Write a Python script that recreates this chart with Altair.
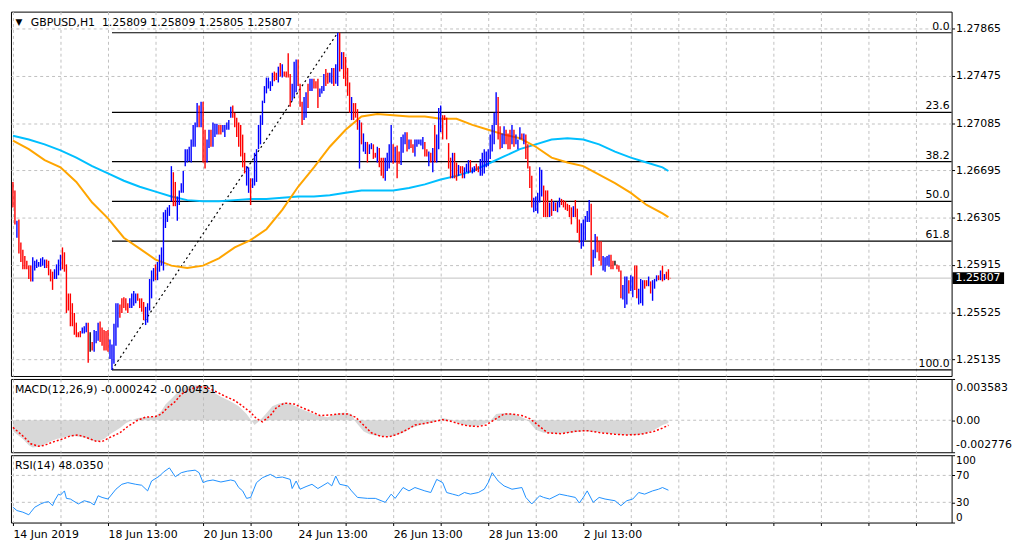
import altair as alt
import pandas as pd

# ---------------- texts ----------------
SYMBOL_TITLE = "GBPUSD,H1\u00a0\u00a01.25809 1.25809 1.25805 1.25807"
MACD_TITLE = "MACD(12,26,9) -0.000242 -0.000431"
RSI_TITLE = "RSI(14) 48.0350"
LAST_PRICE = 1.25807
LAST_PRICE_TXT = "1.25807"

# ---------------- price bars (H1) ----------------
bar_high = [
 1.2660, 1.2653, 1.2628, 1.2629, 1.2610, 1.2604, 1.2599, 1.2595, 1.2591, 1.2591,
 1.2598, 1.2595, 1.2596, 1.2594, 1.2597, 1.2598, 1.2596, 1.2596, 1.2595, 1.2588,
 1.2586, 1.2588, 1.2592, 1.2596, 1.2600, 1.2606, 1.2602, 1.2592, 1.2568, 1.2568,
 1.2560, 1.2552, 1.2544, 1.2536, 1.2537, 1.2540, 1.2541, 1.2544, 1.2544, 1.2536,
 1.2528, 1.2538, 1.2537, 1.2544, 1.2545, 1.2540, 1.2538, 1.2537, 1.2538, 1.2530,
 1.2526, 1.2543, 1.2560, 1.2560, 1.2559, 1.2564, 1.2565, 1.2564, 1.2560, 1.2564,
 1.2568, 1.2570, 1.2568, 1.2568, 1.2564, 1.2564, 1.2561, 1.2557, 1.2560, 1.2580,
 1.2587, 1.2589, 1.2592, 1.2594, 1.2600, 1.2606, 1.2635, 1.2637, 1.2639, 1.2641,
 1.2673, 1.2668, 1.2660, 1.2648, 1.2653, 1.2659, 1.2669, 1.2687, 1.2687, 1.2689,
 1.2695, 1.2707, 1.2709, 1.2725, 1.2723, 1.2726, 1.2726, 1.2703, 1.2695, 1.2703,
 1.2703, 1.2709, 1.2708, 1.2708, 1.2707, 1.2707, 1.2707, 1.2707, 1.2709, 1.2711,
 1.2722, 1.2723, 1.2717, 1.2713, 1.2709, 1.2707, 1.2699, 1.2684, 1.2673, 1.2672,
 1.2663, 1.2663, 1.2684, 1.2687, 1.2707, 1.2715, 1.2727, 1.2739, 1.2746, 1.2746,
 1.2743, 1.2750, 1.2751, 1.2750, 1.2755, 1.2758, 1.2757, 1.2751, 1.2751, 1.2766,
 1.2749, 1.2741, 1.2759, 1.2761, 1.2761, 1.2741, 1.2726, 1.2730, 1.2734, 1.2741,
 1.2745, 1.2745, 1.2745, 1.2743, 1.2745, 1.2737, 1.2739, 1.2749, 1.2753, 1.2750,
 1.2750, 1.2754, 1.2754, 1.2757, 1.2783, 1.2783, 1.2767, 1.2767, 1.2763, 1.2754,
 1.2742, 1.2730, 1.2725, 1.2725, 1.2720, 1.2711, 1.2709, 1.2700, 1.2693, 1.2693,
 1.2691, 1.2692, 1.2691, 1.2684, 1.2689, 1.2688, 1.2680, 1.2680, 1.2680, 1.2684,
 1.2691, 1.2707, 1.2691, 1.2689, 1.2690, 1.2685, 1.2697, 1.2699, 1.2701, 1.2701,
 1.2695, 1.2695, 1.2691, 1.2695, 1.2695, 1.2695, 1.2695, 1.2697, 1.2693, 1.2687,
 1.2685, 1.2684, 1.2688, 1.2707, 1.2699, 1.2721, 1.2723, 1.2715, 1.2715, 1.2713,
 1.2692, 1.2680, 1.2684, 1.2684, 1.2676, 1.2674, 1.2673, 1.2673, 1.2672, 1.2675,
 1.2678, 1.2678, 1.2672, 1.2673, 1.2675, 1.2673, 1.2679, 1.2684, 1.2687, 1.2685,
 1.2687, 1.2699, 1.2707, 1.2717, 1.2734, 1.2730, 1.2706, 1.2700, 1.2706, 1.2703,
 1.2700, 1.2703, 1.2707, 1.2703, 1.2699, 1.2695, 1.2705, 1.2700, 1.2700, 1.2699,
 1.2691, 1.2673, 1.2665, 1.2647, 1.2648, 1.2651, 1.2672, 1.2670, 1.2657, 1.2653,
 1.2653, 1.2643, 1.2646, 1.2644, 1.2643, 1.2644, 1.2647, 1.2646, 1.2645, 1.2644,
 1.2642, 1.2641, 1.2639, 1.2640, 1.2645, 1.2638, 1.2629, 1.2626, 1.2629, 1.2632,
 1.2636, 1.2645, 1.2642, 1.2604, 1.2617, 1.2615, 1.2611, 1.2611, 1.2599, 1.2598,
 1.2599, 1.2600, 1.2600, 1.2595, 1.2595, 1.2592, 1.2591, 1.2587, 1.2575, 1.2582,
 1.2582, 1.2579, 1.2583, 1.2582, 1.2591, 1.2591, 1.2572, 1.2580, 1.2579, 1.2579,
 1.2579, 1.2582, 1.2578, 1.2579, 1.2580, 1.2583, 1.2583, 1.2587, 1.2591, 1.2584,
 1.2586, 1.2588, 1.25809]

bar_low = [
 1.2639, 1.2625, 1.2614, 1.2601, 1.2594, 1.2588, 1.2588, 1.2588, 1.2580, 1.2578,
 1.2578, 1.2587, 1.2589, 1.2590, 1.2590, 1.2591, 1.2589, 1.2589, 1.2583, 1.2578,
 1.2571, 1.2580, 1.2580, 1.2583, 1.2587, 1.2588, 1.2586, 1.2552, 1.2554, 1.2541,
 1.2541, 1.2534, 1.2532, 1.2532, 1.2532, 1.2535, 1.2535, 1.2536, 1.2511, 1.2520,
 1.2521, 1.2520, 1.2527, 1.2529, 1.2528, 1.2525, 1.2521, 1.2521, 1.2520, 1.2514,
 1.2505, 1.2510, 1.2525, 1.2540, 1.2548, 1.2552, 1.2556, 1.2554, 1.2552, 1.2556,
 1.2556, 1.2558, 1.2560, 1.2562, 1.2556, 1.2553, 1.2546, 1.2542, 1.2544, 1.2554,
 1.2564, 1.2578, 1.2579, 1.2579, 1.2586, 1.2591, 1.2587, 1.2622, 1.2627, 1.2632,
 1.2644, 1.2640, 1.2640, 1.2628, 1.2641, 1.2651, 1.2651, 1.2673, 1.2676, 1.2677,
 1.2676, 1.2689, 1.2689, 1.2705, 1.2705, 1.2705, 1.2676, 1.2671, 1.2676, 1.2688,
 1.2689, 1.2689, 1.2697, 1.2699, 1.2699, 1.2699, 1.2701, 1.2697, 1.2703, 1.2703,
 1.2713, 1.2713, 1.2705, 1.2697, 1.2689, 1.2681, 1.2672, 1.2667, 1.2657, 1.2651,
 1.2641, 1.2655, 1.2657, 1.2660, 1.2687, 1.2691, 1.2707, 1.2725, 1.2733, 1.2737,
 1.2735, 1.2739, 1.2743, 1.2744, 1.2742, 1.2747, 1.2746, 1.2747, 1.2746, 1.2746,
 1.2722, 1.2727, 1.2730, 1.2734, 1.2739, 1.2722, 1.2707, 1.2711, 1.2713, 1.2721,
 1.2735, 1.2735, 1.2737, 1.2737, 1.2721, 1.2730, 1.2733, 1.2735, 1.2739, 1.2741,
 1.2742, 1.2741, 1.2739, 1.2741, 1.2739, 1.2751, 1.2753, 1.2745, 1.2739, 1.2731,
 1.2717, 1.2711, 1.2711, 1.2713, 1.2703, 1.2671, 1.2691, 1.2685, 1.2683, 1.2676,
 1.2683, 1.2687, 1.2679, 1.2680, 1.2676, 1.2672, 1.2665, 1.2663, 1.2661, 1.2669,
 1.2671, 1.2676, 1.2675, 1.2676, 1.2663, 1.2675, 1.2674, 1.2684, 1.2691, 1.2685,
 1.2687, 1.2688, 1.2684, 1.2681, 1.2689, 1.2691, 1.2690, 1.2687, 1.2681, 1.2681,
 1.2673, 1.2676, 1.2668, 1.2676, 1.2676, 1.2687, 1.2701, 1.2695, 1.2711, 1.2695,
 1.2671, 1.2663, 1.2663, 1.2663, 1.2661, 1.2665, 1.2667, 1.2663, 1.2663, 1.2668,
 1.2667, 1.2668, 1.2667, 1.2668, 1.2669, 1.2668, 1.2665, 1.2665, 1.2667, 1.2672,
 1.2673, 1.2679, 1.2685, 1.2691, 1.2707, 1.2695, 1.2687, 1.2688, 1.2691, 1.2691,
 1.2687, 1.2687, 1.2691, 1.2689, 1.2691, 1.2687, 1.2695, 1.2695, 1.2691, 1.2679,
 1.2671, 1.2655, 1.2639, 1.2635, 1.2636, 1.2634, 1.2643, 1.2648, 1.2631, 1.2631,
 1.2631, 1.2631, 1.2632, 1.2636, 1.2636, 1.2635, 1.2639, 1.2641, 1.2639, 1.2637,
 1.2636, 1.2631, 1.2625, 1.2631, 1.2631, 1.2618, 1.2610, 1.2605, 1.2607, 1.2612,
 1.2627, 1.2627, 1.2583, 1.2590, 1.2597, 1.2602, 1.2595, 1.2591, 1.2587, 1.2586,
 1.2591, 1.2590, 1.2588, 1.2588, 1.2591, 1.2588, 1.2586, 1.2564, 1.2563, 1.2556,
 1.2559, 1.2568, 1.2570, 1.2565, 1.2571, 1.2564, 1.2559, 1.2560, 1.2558, 1.2572,
 1.2574, 1.2574, 1.2568, 1.2562, 1.2572, 1.2578, 1.2579, 1.2579, 1.2578, 1.2579,
 1.2580, 1.2579, 1.25805]

# u = bullish (blue), d = bearish (red), n = doji (black)
bar_dir = list(
    "dduddddddd" "uuuuuuuddd" "duuuuddddd" "ddddduuudn" "duuudddddu"
    "uuuudddddu" "uuudddduuu" "uuduuuuuuu" "udduuuuuuu" "uuuududduu"
    "duuudduuuu" "uddddddduu" "duuuuuuuuu" "uuddududdd" "duuuddduud"
    "uuddduuudd" "uuduududdd" "duddduduud" "uudduddduu" "uududduuud"
    "udduuuuudd" "ududuuuddd" "dduddudduu" "uduudduuuu" "uuuuudduud"
    "dduduuudud" "ddduuuuudd" "dududuuddd" "ddduddduuu" "uuduuddduu"
    "uuddnddduu" "uduudduuud" "duduuududu" "ddd")

# ---------------- moving averages (sampled bars) ----------------
ma_idx = [0, 8, 16, 24, 32, 40, 48, 56, 64, 72, 80, 88, 96, 104, 112, 120, 128,
          136, 144, 152, 160, 168, 176, 184, 192, 200, 208, 216, 224, 232, 240,
          248, 256, 264, 272, 280, 288, 296, 304, 312, 320, 328, 331]
ma_orange = [1.2694, 1.2687, 1.2678, 1.2672, 1.2660, 1.2643, 1.2630, 1.2614, 1.2605,
             1.2596, 1.2591, 1.2589, 1.2591, 1.2597, 1.2606, 1.2612, 1.2621, 1.2637,
             1.2656, 1.2672, 1.2689, 1.2703, 1.2714, 1.2716, 1.2715, 1.2714, 1.2714,
             1.2712, 1.2712, 1.2707, 1.2703, 1.2699, 1.2696, 1.2689, 1.2680, 1.2676,
             1.2673, 1.2666, 1.2659, 1.2651, 1.2641, 1.2634, 1.2631]
ma_blue = [1.2698, 1.2695, 1.2691, 1.2686, 1.2680, 1.2673, 1.2667, 1.2661, 1.2656,
           1.2652, 1.2648, 1.2645, 1.2644, 1.2644, 1.2645, 1.2646, 1.2646, 1.2647,
           1.2648, 1.2648, 1.2649, 1.2651, 1.2653, 1.2653, 1.2653, 1.2655, 1.2658,
           1.2662, 1.2665, 1.2669, 1.2675, 1.2681, 1.2687, 1.2691, 1.2695, 1.2696,
           1.2695, 1.2691, 1.2685, 1.2680, 1.2676, 1.2672, 1.2669]

# ---------------- Fibonacci retracement ----------------
fib_anchor_idx = [50, 164]
fib_anchor_price = [1.2505, 1.2783]
fib_pct = [0.0, 23.6, 38.2, 50.0, 61.8, 100.0]
fib_txt = ["0.0", "23.6", "38.2", "50.0", "61.8", "100.0"]

# ---------------- MACD ----------------
macd_idx = [0, 5, 8, 10, 14, 18, 22, 27, 31, 36, 40, 43, 46, 49, 54, 57, 60, 63, 67, 72,
            75, 77, 81, 84, 87, 92, 96, 101, 105, 110, 114, 118, 122, 124, 127, 131, 134,
            137, 141, 145, 150, 154, 159, 163, 167, 171, 173, 177, 180, 184, 189, 192,
            197, 201, 207, 212, 217, 220, 223, 228, 232, 237, 241, 244, 248, 253, 257,
            260, 264, 268, 275, 282, 288, 295, 302, 308, 315, 319, 324, 328, 331]
macd_val = [-0.00095, -0.00163, -0.00217, -0.00236, -0.00226, -0.00190, -0.00163,
            -0.00144, -0.00136, -0.00149, -0.00177, -0.00182, -0.00163, -0.00122,
            -0.00068, -0.00027, 0.0, 0.00019, 0.00027, 0.00033, 0.00082, 0.00136,
            0.00204, 0.00258, 0.00291, 0.00304, 0.00299, 0.00245, 0.00204, 0.00163,
            0.00122, 0.00054, -0.00041, -0.00014, 0.00041, 0.00122, 0.00144, 0.00155,
            0.00136, 0.00101, 0.00068, 0.00041, 0.00027, 0.00054, 0.00068, 0.00054,
            -0.00014, -0.00095, -0.00122, -0.00136, -0.00144, -0.00136, -0.00109,
            -0.00068, -0.00035, -0.00019, 0.00019, 0.00008, -0.00014, -0.00041,
            -0.00054, -0.00041, -0.00008, 0.00054, 0.00062, 0.00054, 0.00027, 0.0,
            -0.00082, -0.00109, -0.00117, -0.00109, -0.00095, -0.00101, -0.00117,
            -0.00128, -0.00128, -0.00117, -0.00082, -0.00041, -0.00024]
signal_idx = [0, 5, 9, 13, 16, 20, 25, 29, 33, 37, 42, 45, 49, 54, 58, 63, 67, 72, 75, 78,
              82, 85, 90, 94, 98, 103, 107, 112, 116, 120, 123, 126, 130, 133, 137, 142,
              146, 151, 155, 160, 164, 169, 173, 177, 181, 186, 190, 194, 199, 203, 208,
              212, 217, 221, 226, 230, 235, 239, 244, 248, 252, 257, 261, 266, 270, 277,
              284, 290, 297, 304, 310, 317, 324, 328, 331]
signal_val = [-0.00062, -0.00136, -0.00204, -0.00226, -0.00217, -0.00190, -0.00163,
              -0.00136, -0.00128, -0.00149, -0.00182, -0.00185, -0.00149, -0.00109,
              -0.00054, 0.0, 0.00027, 0.00033, 0.00054, 0.00109, 0.00163, 0.00226,
              0.00272, 0.00291, 0.00285, 0.00245, 0.00209, 0.00171, 0.00122, 0.00068,
              0.00014, -0.00014, 0.00041, 0.00109, 0.00149, 0.00141, 0.00109, 0.00073,
              0.00041, 0.00046, 0.00054, 0.00054, 0.00027, -0.00041, -0.00109, -0.00141,
              -0.00144, -0.00122, -0.00082, -0.00041, -0.00027, -0.00014, 0.00005,
              -0.00008, -0.00035, -0.00049, -0.00054, -0.00041, 0.00014, 0.00054,
              0.00054, 0.00041, 0.00014, -0.00054, -0.00109, -0.00117, -0.00095,
              -0.00090, -0.00109, -0.00122, -0.00128, -0.00122, -0.00095, -0.00068,
              -0.00043]
macd_ticks = [-0.002776, 0.0, 0.003583]

# ---------------- RSI ----------------
rsi_idx = [0, 2, 5, 8, 9, 11, 14, 16, 18, 20, 21, 23, 24, 26, 27, 29, 33, 36, 39, 41,
           43, 45, 48, 52, 55, 58, 62, 65, 68, 70, 74, 76, 79, 82, 85, 88, 92, 94, 96, 98,
           101, 105, 110, 112, 114, 116, 118, 120, 123, 126, 130, 133, 136, 140, 141, 143,
           145, 148, 151, 154, 159, 161, 163, 165, 169, 171, 174, 179, 183, 188, 191, 193,
           197, 200, 203, 208, 211, 214, 217, 219, 222, 225, 228, 231, 235, 238, 240, 242,
           245, 248, 252, 257, 259, 262, 266, 268, 271, 276, 280, 284, 286, 288, 290, 293,
           296, 299, 304, 307, 310, 313, 316, 319, 323, 326, 328, 331]
rsi_val = [22.7, 17.8, 15.4, 11.5, 15.4, 22.7, 27.6, 30, 31, 25,
           32.4, 42.2, 40.7, 47, 35.9, 34.9, 27.6, 32.4, 30, 26.1,
           39.8, 37.3, 34.9, 49.5, 56.8, 59.3, 56.8, 55.4, 47, 61.7,
           69, 74.9, 81.2, 68, 74, 76.3, 77.8, 74, 59.3, 61.7,
           63.2, 60.2, 63.2, 61.7, 52, 47, 35.9, 37.3, 59.3, 66.6,
           71.5, 66.6, 67.6, 64.1, 50.5, 61.7, 49.5, 53.4, 56.8, 50.5,
           59.3, 54.4, 69, 56.8, 54.4, 47, 37.3, 35.9, 35.9, 30,
           42.2, 35.9, 52, 47, 52, 47, 44.6, 64.1, 59.3, 44.6,
           42.2, 39.8, 44.6, 42.2, 44.6, 49.5, 59.3, 74, 61.7, 54.4,
           49.5, 52, 37.3, 27.6, 39.8, 37.3, 34.9, 42.2, 39.8, 37.3,
           29, 37.3, 47, 30, 37.3, 34.9, 32.4, 25, 32.4, 34.9,
           44.6, 42.2, 47, 49.5, 52, 48.035]
rsi_levels = [30, 70]
rsi_ticks = [0, 30, 70, 100]

# ---------------- axes ticks / labels ----------------
price_ticks = [1.27865, 1.27475, 1.27085, 1.26695, 1.26305, 1.25915, 1.25525, 1.25135]
time_ticks = [0, 24, 48, 72, 96, 120, 144, 168, 192, 216, 240, 264, 288, 312, 336,
              360, 384, 408, 432, 456]
time_label_idx = [0, 48, 96, 144, 192, 240, 288]
time_label_txt = ["14 Jun 2019", "18 Jun 13:00", "20 Jun 13:00", "24 Jun 13:00",
                  "26 Jun 13:00", "28 Jun 13:00", "2 Jul 13:00"]

# ---------------- layout / style ----------------
FONT = "DejaVu Sans"
W = 950
H_MAIN, H_MACD, H_RSI = 368, 74, 68
X_DOMAIN = [-1.0, 474.0]
GRID = "#c0c0c0"

n = min(len(bar_high), len(bar_low), len(bar_dir))
bars_df = pd.DataFrame({"i": list(range(n)), "high": bar_high[:n], "low": bar_low[:n],
                        "dir": bar_dir[:n]})
ma_df = pd.DataFrame({"i": ma_idx, "orange": ma_orange, "blue": ma_blue})
hi, lo = fib_anchor_price[1], fib_anchor_price[0]
fib_df = pd.DataFrame({
    "level": [hi - (hi - lo) * p / 100.0 for p in fib_pct],
    "label": fib_txt,
    "i0": [fib_anchor_idx[0]] * len(fib_pct),
    "i1": [X_DOMAIN[1]] * len(fib_pct),
})
trend_df = pd.DataFrame({"i": fib_anchor_idx, "p": fib_anchor_price})
last_df = pd.DataFrame({"p": [LAST_PRICE], "t": [LAST_PRICE_TXT]})
macd_df = pd.DataFrame({"i": macd_idx, "v": macd_val})
sig_df = pd.DataFrame({"i": signal_idx, "v": signal_val})
rsi_df = pd.DataFrame({"i": rsi_idx, "v": rsi_val})

xs = alt.Scale(domain=X_DOMAIN, nice=False, zero=False)
ys_main = alt.Scale(domain=[1.2500, 1.28004], nice=False, zero=False)
ys_macd = alt.Scale(domain=[macd_ticks[0], macd_ticks[-1]], nice=False, zero=False)
ys_rsi = alt.Scale(domain=[0, 100], nice=False, zero=False)

x_axis_plain = alt.Axis(values=time_ticks, labels=False, ticks=False, domain=False,
                        grid=True, gridColor=GRID, gridDash=[3, 3], title=None)
label_expr = "".join(f"datum.value == {k} ? '{t}' : " for k, t in
                     zip(time_label_idx, time_label_txt)) + "''"
x_axis_rsi = alt.Axis(values=time_ticks, labelExpr=label_expr, labelAlign="left",
                      labelBaseline="top", labelPadding=3, labelOverlap=False,
                      ticks=True, tickSize=3, tickColor="black", domain=False,
                      grid=True, gridColor=GRID, gridDash=[3, 3], title=None)
y_axis_main = alt.Axis(orient="right", values=price_ticks, format=".5f", grid=True,
                       gridColor=GRID, gridDash=[3, 3], domain=False, ticks=True,
                       tickSize=3, tickColor="black", labelPadding=1,
                       labelOverlap=False, title=None)
y_axis_macd = alt.Axis(orient="right", values=macd_ticks,
                       labelExpr="datum.value == 0 ? '0.00' : '' + datum.value",
                       grid=False, domain=False, ticks=True, tickSize=3,
                       tickColor="black", labelPadding=1, labelFlush=True,
                       labelFlushOffset=-3, labelOverlap=False, title=None)
y_axis_rsi = alt.Axis(orient="right", values=rsi_ticks, grid=False, domain=False,
                      ticks=True, tickSize=3, tickColor="black", labelPadding=1,
                      labelFlush=True, labelFlushOffset=0, labelOverlap=False,
                      labelFontSize=10.5, title=None)

X = lambda f: alt.X(f, scale=xs, axis=x_axis_plain)

# ---------------- main price panel ----------------
fib_rules = alt.Chart(fib_df).mark_rule(color="black", strokeWidth=1.2).encode(
    x=X("i0:Q"), x2="i1:Q",
    y=alt.Y("level:Q", scale=ys_main, axis=y_axis_main))
fib_labels = alt.Chart(fib_df).mark_text(align="right", baseline="alphabetic", dy=-3,
                                         fontSize=11, color="black").encode(
    x=alt.value(W - 2),
    y=alt.Y("level:Q", scale=ys_main, axis=y_axis_main), text="label:N")
trend = alt.Chart(trend_df).mark_line(color="black", strokeWidth=1.2,
                                      strokeDash=[2, 3]).encode(
    x=X("i:Q"), y=alt.Y("p:Q", scale=ys_main, axis=y_axis_main))
last_line = alt.Chart(last_df).mark_rule(color=GRID, strokeWidth=1).encode(
    y=alt.Y("p:Q", scale=ys_main, axis=y_axis_main))
ma_o = alt.Chart(ma_df).mark_line(color="#ffa500", strokeWidth=2).encode(
    x=X("i:Q"), y=alt.Y("orange:Q", scale=ys_main, axis=y_axis_main))
ma_b = alt.Chart(ma_df).mark_line(color="#00bfff", strokeWidth=2).encode(
    x=X("i:Q"), y=alt.Y("blue:Q", scale=ys_main, axis=y_axis_main))
bars = alt.Chart(bars_df).mark_rule(strokeWidth=1.4, strokeCap="butt").encode(
    x=X("i:Q"),
    y=alt.Y("low:Q", scale=ys_main, axis=y_axis_main), y2="high:Q",
    color=alt.Color("dir:N", legend=None,
                    scale=alt.Scale(domain=["u", "d", "n"],
                                    range=["#0000ff", "#ff0000", "#000000"])))
last_box = alt.Chart(last_df).mark_rule(color="black", strokeWidth=12,
                                        strokeCap="butt").encode(
    x=alt.value(W + 1), x2=alt.value(W + 53),
    y=alt.Y("p:Q", scale=ys_main, axis=y_axis_main))
last_txt = alt.Chart(last_df).mark_text(color="white", align="left", baseline="middle",
                                        fontSize=11).encode(
    x=alt.value(W + 4), y=alt.Y("p:Q", scale=ys_main, axis=y_axis_main), text="t:N")
title_df = pd.DataFrame({"t": [SYMBOL_TITLE], "m": ["\u25bc"]})
main_title = alt.Chart(title_df).mark_text(align="left", baseline="middle", fontSize=11,
                                           color="black").encode(
    x=alt.value(20), y=alt.value(12), text="t:N")
main_marker = alt.Chart(title_df).mark_text(align="center", baseline="middle",
                                            fontSize=9, color="black").encode(
    x=alt.value(8), y=alt.value(11), text="m:N")

main = alt.layer(last_line, fib_rules, trend, ma_b, ma_o, bars, fib_labels,
                 last_box, last_txt, main_title, main_marker).properties(
    width=W, height=H_MAIN)

# ---------------- MACD panel ----------------
zero_df = pd.DataFrame({"v": [0.0]})
macd_zero = alt.Chart(zero_df).mark_rule(color=GRID, strokeDash=[3, 3]).encode(
    y=alt.Y("v:Q", scale=ys_macd, axis=y_axis_macd))
macd_hist = alt.Chart(macd_df).mark_area(color="#b8b8b8", opacity=0.55).encode(
    x=X("i:Q"), y=alt.Y("v:Q", scale=ys_macd, axis=y_axis_macd), y2=alt.datum(0))
macd_sig = alt.Chart(sig_df).mark_line(color="#ff0000", strokeWidth=1.5,
                                       strokeDash=[2, 2]).encode(
    x=X("i:Q"), y=alt.Y("v:Q", scale=ys_macd, axis=y_axis_macd))
macd_title = alt.Chart(pd.DataFrame({"t": [MACD_TITLE]})).mark_text(
    align="left", baseline="middle", fontSize=11, color="black").encode(
    x=alt.value(4), y=alt.value(11), text="t:N")
macd = alt.layer(macd_zero, macd_hist, macd_sig, macd_title).properties(
    width=W, height=H_MACD)

# ---------------- RSI panel ----------------
XR = lambda f: alt.X(f, scale=xs, axis=x_axis_rsi)
rsi_lv = alt.Chart(pd.DataFrame({"v": rsi_levels})).mark_rule(
    color=GRID, strokeDash=[3, 3]).encode(
    y=alt.Y("v:Q", scale=ys_rsi, axis=y_axis_rsi))
rsi_line = alt.Chart(rsi_df).mark_line(color="#1e90ff", strokeWidth=1).encode(
    x=XR("i:Q"), y=alt.Y("v:Q", scale=ys_rsi, axis=y_axis_rsi))
rsi_title = alt.Chart(pd.DataFrame({"t": [RSI_TITLE]})).mark_text(
    align="left", baseline="middle", fontSize=11, color="black").encode(
    x=alt.value(4), y=alt.value(11), text="t:N")
rsi = alt.layer(rsi_lv, rsi_line, rsi_title).properties(width=W, height=H_RSI)

chart = alt.vconcat(main, macd, rsi, spacing=3, bounds="flush").properties(
    padding={"left": 0, "top": 0, "right": 0, "bottom": 0}
).configure(font=FONT, background="white").configure_view(
    stroke="black", strokeWidth=1, fill="white"
).configure_axis(labelFont=FONT, labelFontSize=11, labelColor="black")

chart.save("out.html", embed_options={"renderer": "svg", "actions": False})
